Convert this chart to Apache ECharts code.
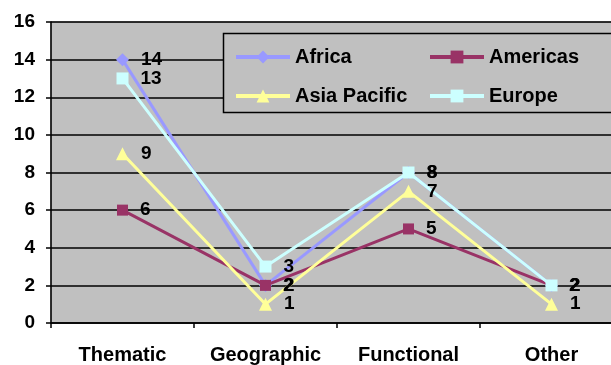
<!DOCTYPE html>
<html>
<head>
<meta charset="utf-8">
<script src="https://cdn.jsdelivr.net/npm/echarts@6/dist/echarts.min.js"></script>
<style>
  html, body { margin: 0; padding: 0; background: #ffffff; }
  #chart { width: 611px; height: 365px; }
</style>
</head>
<body>
<div id="chart"></div>
<script>
// Categories and values per region
const categories = ['Thematic', 'Geographic', 'Functional', 'Other'];
const africa = [14, 2, 8, 2];
const americas = [6, 2, 5, 2];
const asiaPacific = [9, 1, 7, 1];
const europe = [13, 3, 8, 2];
const yTicks = { min: 0, max: 16, interval: 2 };

const font = '"Liberation Sans", Arial, sans-serif';

function lineSeries(name, data, color, symbol, size) {
  return {
    name: name,
    type: 'line',
    data: data,
    symbol: symbol,
    symbolSize: size,
    lineStyle: { color: color, width: 3 },
    itemStyle: { color: color },
    label: {
      show: true,
      position: 'right',
      distance: 12,
      color: '#000',
      fontFamily: font,
      fontWeight: 'bold',
      fontSize: 19
    },
    emphasis: { disabled: true },
    animation: false
  };
}

function legendItem(name, left, top) {
  return {
    data: [name],
    left: left,
    top: top,
    z: 10,
    itemWidth: 54,
    itemHeight: 16,
    itemGap: 6,
    lineStyle: { width: 4 },
    textStyle: { fontFamily: font, fontWeight: 'bold', fontSize: 20, color: '#000' },
    selectedMode: false
  };
}

const chart = echarts.init(document.getElementById('chart'), null, { renderer: 'canvas' });
chart.setOption({
  backgroundColor: '#ffffff',
  grid: {
    left: 51,
    top: 22,
    width: 572,
    bottom: 42,
    containLabel: false,
    outerBoundsMode: 'none',
    show: true,
    backgroundColor: '#c0c0c0',
    borderColor: '#808080',
    borderWidth: 1
  },
  xAxis: {
    type: 'category',
    data: categories,
    boundaryGap: true,
    axisLine: { lineStyle: { color: '#000', width: 1.5 } },
    axisTick: { show: true, length: 5, lineStyle: { color: '#000', width: 1.5 } },
    axisLabel: {
      interval: 0,
      margin: 22,
      color: '#000',
      fontFamily: font,
      fontWeight: 'bold',
      fontSize: 20
    },
    splitLine: { show: false }
  },
  yAxis: {
    type: 'value',
    min: yTicks.min,
    max: yTicks.max,
    interval: yTicks.interval,
    axisLine: { show: true, lineStyle: { color: '#000', width: 1.5 } },
    axisTick: { show: true, length: 5, lineStyle: { color: '#000', width: 1.5 } },
    axisLabel: {
      margin: 16,
      color: '#000',
      fontFamily: font,
      fontWeight: 'bold',
      fontSize: 19
    },
    splitLine: { show: true, lineStyle: { color: '#000', width: 1.5 } }
  },
  graphic: [{
    type: 'rect',
    shape: { x: 223.5, y: 33.5, width: 400, height: 79 },
    style: { fill: '#c0c0c0', stroke: '#000', lineWidth: 1.5 },
    z: 5
  }],
  legend: [
    legendItem('Africa', 229, 42),
    legendItem('Americas', 423, 42),
    legendItem('Asia Pacific', 229, 81),
    legendItem('Europe', 423, 81)
  ],
  series: [
    lineSeries('Africa', africa, '#9999ff', 'diamond', 13),
    lineSeries('Americas', americas, '#993366', 'rect', 11),
    lineSeries('Asia Pacific', asiaPacific, '#ffff99', 'triangle', 13),
    lineSeries('Europe', europe, '#ccffff', 'rect', 12)
  ]
});
</script>
</body>
</html>
